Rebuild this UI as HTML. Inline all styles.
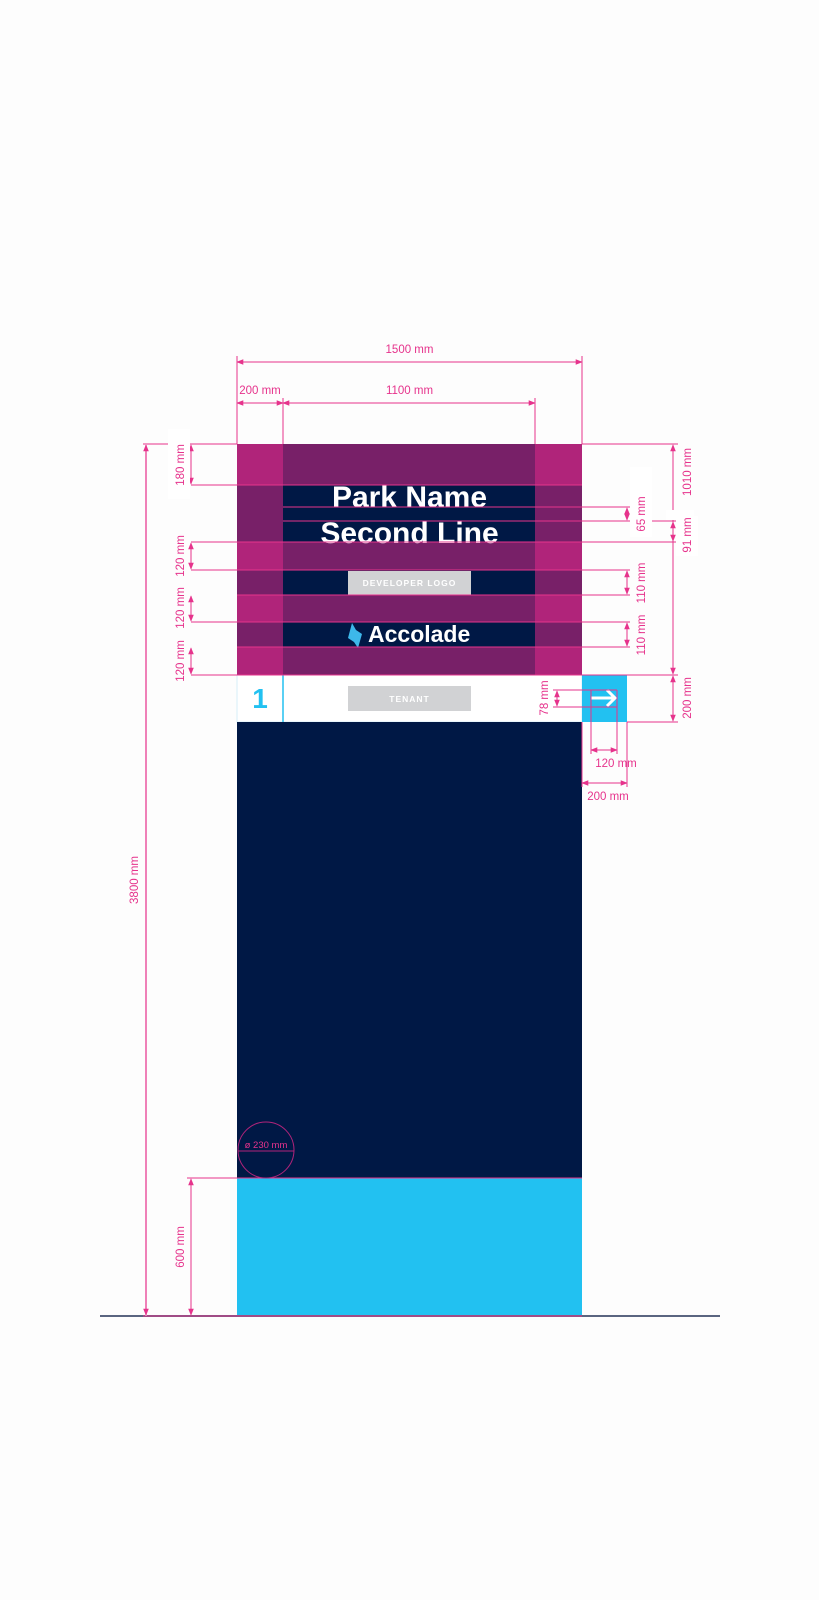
<!DOCTYPE html>
<html><head><meta charset="utf-8"><style>
html,body{margin:0;padding:0;background:#fdfdfd;}
svg{display:block;font-family:"Liberation Sans",sans-serif;}
.d{fill:#e6338c;font-size:11.5px;}
</style></head><body>
<svg width="819" height="1600" viewBox="0 0 819 1600" xmlns="http://www.w3.org/2000/svg">
<defs>
<marker id="a" viewBox="0 0 10 10" refX="9" refY="5" markerWidth="7" markerHeight="7" orient="auto-start-reverse"><path d="M0,1 L10,5 L0,9 z" fill="#e6338c"/></marker>
</defs>
<rect width="819" height="1600" fill="#fdfdfd"/>
<rect x="237" y="444" width="345" height="231" fill="#b0247a"/>
<rect x="283" y="444" width="252" height="231" fill="#782068"/>
<rect x="237" y="485" width="345" height="57" fill="#782068"/>
<rect x="237" y="570" width="345" height="25" fill="#782068"/>
<rect x="237" y="622" width="345" height="25" fill="#782068"/>
<rect x="283" y="485" width="252" height="57" fill="#001845"/>
<rect x="283" y="570" width="252" height="25" fill="#001845"/>
<rect x="283" y="622" width="252" height="25" fill="#001845"/>
<rect x="237" y="675" width="345" height="47" fill="#ffffff" stroke="#d6eef8" stroke-width="1"/>
<line x1="283" y1="675" x2="283" y2="722" stroke="#22c1f1" stroke-width="1.5"/>
<text x="260" y="708" text-anchor="middle" font-size="28" font-weight="bold" fill="#22c1f1">1</text>
<rect x="348" y="686" width="123" height="25" fill="#d1d2d4"/>
<text x="409.5" y="702" text-anchor="middle" font-size="8.5" font-weight="bold" fill="#fff" letter-spacing="1">TENANT</text>
<rect x="582" y="675" width="45" height="47" fill="#22c1f1"/>
<path d="M591,698 H615 M607,690 L615,698 L607,706" stroke="#fff" stroke-width="3" fill="none"/>
<rect x="237" y="722" width="345" height="456" fill="#001845"/>
<rect x="237" y="1178" width="345" height="138" fill="#22c1f1"/>
<line x1="100" y1="1316" x2="720" y2="1316" stroke="#5a6580" stroke-width="2"/>
<text x="409.5" y="507" text-anchor="middle" font-size="30" font-weight="bold" fill="#fff">Park Name</text>
<text x="409.5" y="543" text-anchor="middle" font-size="30" font-weight="bold" fill="#fff">Second Line</text>
<rect x="348" y="571" width="123" height="24" fill="#d1d2d4"/>
<text x="409.5" y="586" text-anchor="middle" font-size="8.5" font-weight="bold" fill="#fff" letter-spacing="1">DEVELOPER LOGO</text>
<path d="M352,623 L356,630 L362,634 L358,648 L354,642 L348,638 Z" fill="#3db8ea"/>
<text x="368" y="642" font-size="23" font-weight="bold" fill="#fff">Accolade</text>
<g stroke="#e6338c" stroke-width="1" fill="none">
<line x1="237" y1="444" x2="237" y2="356"/><line x1="582" y1="444" x2="582" y2="356"/>
<line x1="283" y1="444" x2="283" y2="398"/><line x1="535" y1="444" x2="535" y2="398"/>
<line x1="143" y1="444" x2="237" y2="444"/><line x1="582" y1="444" x2="678" y2="444"/>
<line x1="191" y1="485" x2="582" y2="485"/>
<line x1="283" y1="507" x2="630" y2="507"/><line x1="283" y1="521" x2="676" y2="521"/>
<line x1="191" y1="542" x2="676" y2="542"/>
<line x1="191" y1="570" x2="630" y2="570"/><line x1="237" y1="595" x2="630" y2="595"/>
<line x1="191" y1="622" x2="630" y2="622"/><line x1="237" y1="647" x2="630" y2="647"/>
<line x1="191" y1="675" x2="678" y2="675"/>
<line x1="627" y1="722" x2="678" y2="722"/>
<line x1="553" y1="690" x2="617" y2="690"/><line x1="553" y1="707" x2="617" y2="707"/>
<line x1="591" y1="690" x2="591" y2="754"/><line x1="617" y1="690" x2="617" y2="754"/>
<line x1="582" y1="722" x2="582" y2="787"/><line x1="627" y1="722" x2="627" y2="787"/>
<line x1="187" y1="1178" x2="582" y2="1178"/>
<line x1="143" y1="1316" x2="582" y2="1316"/>
</g>
<line x1="146" y1="444" x2="146" y2="1316" stroke="#f3a0c9" stroke-width="1.5"/>
<g stroke="#e6338c" stroke-width="1" marker-start="url(#a)" marker-end="url(#a)">
<line x1="237" y1="362" x2="582" y2="362"/>
<line x1="237" y1="403" x2="283" y2="403"/>
<line x1="283" y1="403" x2="535" y2="403"/>
<line x1="146" y1="445" x2="146" y2="1315"/>
<line x1="191" y1="445" x2="191" y2="484"/>
<line x1="191" y1="543" x2="191" y2="569"/>
<line x1="191" y1="596" x2="191" y2="621"/>
<line x1="191" y1="648" x2="191" y2="674"/>
<line x1="191" y1="1179" x2="191" y2="1315"/>
<line x1="673" y1="445" x2="673" y2="674"/>
<line x1="673" y1="522" x2="673" y2="541"/>
<line x1="673" y1="676" x2="673" y2="721"/>
<line x1="627" y1="508" x2="627" y2="520"/>
<line x1="627" y1="571" x2="627" y2="594"/>
<line x1="627" y1="623" x2="627" y2="646"/>
<line x1="557" y1="691" x2="557" y2="706"/>
<line x1="591" y1="750" x2="617" y2="750"/>
<line x1="582" y1="783" x2="627" y2="783"/>
</g>
<rect x="168" y="429" width="22" height="70" fill="#fff"/>
<rect x="630" y="467" width="22" height="70" fill="#fff"/>
<rect x="666" y="510" width="28" height="10" fill="#fff"/>
<rect x="676" y="516" width="22" height="40" fill="#fff"/>
<text class="d" x="409.5" y="353" text-anchor="middle">1500 mm</text>
<text class="d" x="260" y="394" text-anchor="middle">200 mm</text>
<text class="d" x="409.5" y="394" text-anchor="middle">1100 mm</text>
<text class="d" transform="translate(138,880) rotate(-90)" text-anchor="middle">3800 mm</text>
<text class="d" transform="translate(184,465) rotate(-90)" text-anchor="middle">180 mm</text>
<text class="d" transform="translate(184,556) rotate(-90)" text-anchor="middle">120 mm</text>
<text class="d" transform="translate(184,608) rotate(-90)" text-anchor="middle">120 mm</text>
<text class="d" transform="translate(184,661) rotate(-90)" text-anchor="middle">120 mm</text>
<text class="d" transform="translate(184,1247) rotate(-90)" text-anchor="middle">600 mm</text>
<text class="d" transform="translate(645,514) rotate(-90)" text-anchor="middle">65 mm</text>
<text class="d" transform="translate(645,583) rotate(-90)" text-anchor="middle">110 mm</text>
<text class="d" transform="translate(645,635) rotate(-90)" text-anchor="middle">110 mm</text>
<text class="d" transform="translate(691,472) rotate(-90)" text-anchor="middle">1010 mm</text>
<text class="d" transform="translate(691,535) rotate(-90)" text-anchor="middle">91 mm</text>
<text class="d" transform="translate(691,698) rotate(-90)" text-anchor="middle">200 mm</text>
<text class="d" transform="translate(548,698) rotate(-90)" text-anchor="middle">78 mm</text>
<text class="d" x="616" y="767" text-anchor="middle">120 mm</text>
<text class="d" x="608" y="800" text-anchor="middle">200 mm</text>
<circle cx="266" cy="1150" r="28" fill="none" stroke="#b0247a" stroke-width="1"/>
<line x1="238" y1="1151" x2="294" y2="1151" stroke="#b0247a" stroke-width="1"/>
<text x="266" y="1148" text-anchor="middle" font-size="9.5" fill="#e6338c">ø 230 mm</text>
</svg>
</body></html>
